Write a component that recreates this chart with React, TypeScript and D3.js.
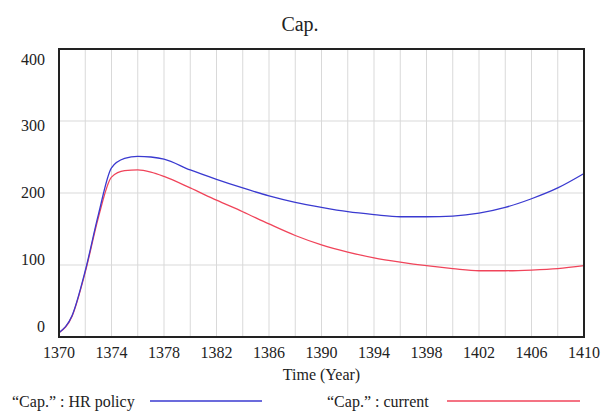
import * as d3 from "d3";

const years = [1370, 1371, 1372, 1373, 1374, 1375, 1376, 1377, 1378, 1380, 1382, 1384, 1386, 1388, 1390, 1392, 1394, 1396, 1398, 1400, 1402, 1404, 1406, 1408, 1410];
const hrPolicy = [6, 30, 92, 170, 235, 248, 251, 250, 247, 232, 219, 207, 196, 187, 180, 174, 170, 167, 167, 168, 172, 180, 192, 207, 227];
const current = [6, 29, 90, 166, 222, 231, 232, 229, 223, 207, 190, 174, 157, 141, 128, 118, 110, 104, 99, 95, 92, 92, 93, 95, 99];

const yTicks = [0, 100, 200, 300, 400];
const xTicks = [1370, 1374, 1378, 1382, 1386, 1390, 1394, 1398, 1402, 1406, 1410];
const xGrid = d3.range(1370, 1411, 2);

const W = 601;
const H = 412;
const left = 59;
const right = 584;
const top = 49;
const bottom = 337;
const serif = "Liberation Serif, Times New Roman, DejaVu Serif, serif";

export default function App() {
  const x = d3.scaleLinear().domain([1370, 1410]).range([left, right]);
  const y = d3.scaleLinear().domain([0, 400]).range([bottom, top]);
  // Vensim places the value labels evenly inside the frame, not on the grid lines
  const yLab = d3.scaleLinear().domain([0, 400]).range([328, 61]);

  const line = (vals: number[]) =>
    d3
      .line<number>()
      .x((_, i) => x(years[i]))
      .y((d) => y(d))
      .curve(d3.curveMonotoneX)(vals) || "";

  return (
    <svg width={W} height={H} style={{ position: "absolute", left: 0, top: 0 }}>
      <rect width={W} height={H} fill="#fff" />
      <g fontFamily={serif} fill="#222">
        <text x={300} y={31} textAnchor="middle" fontSize={20}>Cap.</text>

        {xGrid.map((d) => (
          <line key={"gx" + d} x1={x(d)} x2={x(d)} y1={top} y2={bottom} stroke="#d9d9d9" strokeWidth={1} />
        ))}
        {yTicks.slice(1, -1).map((d) => (
          <line key={"gy" + d} x1={left} x2={right} y1={y(d)} y2={y(d)} stroke="#d9d9d9" strokeWidth={1} />
        ))}

        <path d={line(current)} fill="none" stroke="#f0445a" strokeWidth={1.3} />
        <path d={line(hrPolicy)} fill="none" stroke="#3a3ad0" strokeWidth={1.3} />

        <rect x={left} y={top} width={right - left} height={bottom - top} fill="none" stroke="#222" strokeWidth={2} />

        {yTicks.map((d) => (
          <text key={"yl" + d} x={45} y={yLab(d)} textAnchor="end" dominantBaseline="middle" fontSize={16}>
            {d}
          </text>
        ))}
        {xTicks.map((d) => (
          <text key={"xl" + d} x={x(d)} y={358} textAnchor="middle" fontSize={16}>
            {d}
          </text>
        ))}
        <text x={(left + right) / 2} y={380} textAnchor="middle" fontSize={16}>Time (Year)</text>

        <text x={12} y={407} fontSize={16}>{"\u201CCap.\u201D : HR policy"}</text>
        <line x1={150} x2={262} y1={401} y2={401} stroke="#3a3ad0" strokeWidth={1.3} />
        <text x={327} y={407} fontSize={16}>{"\u201CCap.\u201D : current"}</text>
        <line x1={447} x2={580} y1={401} y2={401} stroke="#f0445a" strokeWidth={1.3} />
      </g>
    </svg>
  );
}
